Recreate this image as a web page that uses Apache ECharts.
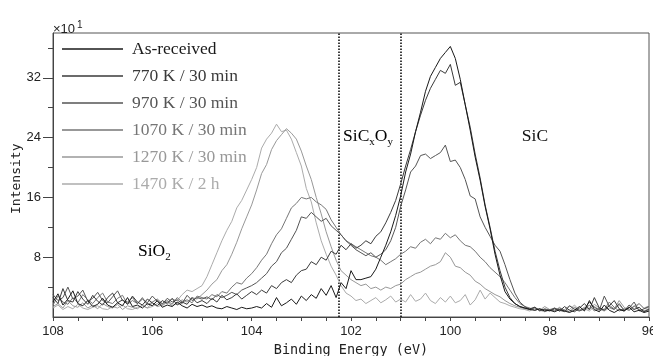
<!DOCTYPE html>
<html>
<head>
<meta charset="utf-8">
<script src="https://cdn.jsdelivr.net/npm/echarts@6/dist/echarts.min.js"></script>
<style>
  html, body { margin: 0; padding: 0; background: #fff; }
  #grafico { width: 653px; height: 356px; }
</style>
</head>
<body>
<div id="grafico"></div>
<script>
// ---------------- dados (eV de 108 ate 96, passo 0.1) ----------------
const nomes = ['As-received', '770 K / 30 min', '970 K / 30 min', '1070 K / 30 min', '1270 K / 30 min', '1470 K / 2 h'];
const cores = ['#1a1a1a', '#3a3a3a', '#555555', '#767676', '#989898', '#ababab'];

const asReceived = [
  2.0, 3.1, 1.6, 2.4, 3.5, 1.8, 1.5, 2.2, 1.4, 1.7, 2.5, 1.6, 1.3, 1.9, 1.5, 2.6, 1.4, 1.6, 1.2, 1.8, 1.5, 2.2, 1.3, 1.6, 1.4, 2.0, 1.5, 1.2, 1.7, 1.4, 1.6,
  1.3, 1.5, 1.2, 1.1, 1.4, 1.2, 1.0, 1.3, 1.1, 1.2,
  1.4, 1.2, 1.8, 1.3, 2.6, 1.5, 1.9, 2.4, 1.7, 2.8,
  2.2, 3.0, 2.5, 3.8, 2.9, 4.2, 2.6, 4.6, 3.8, 6.2,
  5.0, 5.0, 5.2, 5.4, 6.4, 8.0, 9.6, 11.4, 13.6, 16.2,
  19.4, 21.8, 24.8, 27.4, 30.2, 32.2, 33.4, 34.6, 35.4, 36.2,
  34.6, 31.8, 28.4, 25.0, 21.4, 18.3, 14.8, 11.8, 8.4, 5.6,
  3.4, 2.4, 1.8, 1.4, 1.2, 1.0, 0.9, 1.1, 0.8, 0.9,
  0.7, 1.0, 0.8, 0.6, 0.9, 1.4, 0.8, 2.2, 1.0, 0.7, 1.6, 0.9, 0.6, 1.0, 0.8, 1.3, 0.7, 0.9, 0.6, 0.8
];
const k770 = [
  2.6, 1.8, 3.8, 2.2, 2.0, 3.4, 2.4, 1.7, 2.9, 2.1, 1.6, 2.6, 3.2, 1.9, 2.3, 1.7, 2.8, 2.0, 1.6, 2.4, 1.9, 1.5, 2.2, 1.8, 2.5, 1.6, 2.0, 1.7, 2.6, 1.9, 2.2,
  1.8, 2.5, 2.0, 2.9, 2.3, 2.6, 3.1, 2.4, 2.9, 3.4,
  3.0, 3.6, 3.2, 4.2, 3.8, 4.6, 5.0, 4.6, 5.6, 6.2,
  6.4, 7.4, 7.0, 8.0, 7.6, 8.8, 8.4, 9.6, 9.0, 9.8,
  9.2, 9.6, 10.2, 9.8, 10.8, 11.4, 12.6, 14.0, 15.6, 17.8,
  20.2, 22.4, 24.8, 27.0, 29.0, 30.6, 31.8, 33.0, 32.6, 33.8,
  31.0, 31.4, 28.4, 25.4, 21.8, 18.6, 15.0, 12.0, 8.8, 6.2,
  4.0, 2.6, 1.8, 1.4, 1.2, 1.1, 1.3, 0.9, 1.0, 0.8,
  1.1, 0.8, 1.4, 0.9, 0.7, 1.2, 1.8, 1.0, 2.6, 1.2, 0.9, 1.5, 2.2, 1.1, 0.8, 1.6, 1.0, 1.3, 0.7, 1.0
];
const k970 = [
  3.0, 2.2, 2.6, 4.0, 2.4, 2.8, 3.6, 2.1, 2.5, 3.3, 2.2, 1.9, 2.7, 3.5, 2.2, 2.0, 2.6, 1.8, 2.4, 1.9, 2.8, 2.1, 1.7, 2.5, 2.0, 2.3, 1.8, 2.9, 2.2, 2.6, 2.4,
  2.7, 2.3, 3.0, 2.6, 2.9, 3.3, 3.0, 3.6, 3.9, 4.2,
  4.6, 5.2, 5.8, 6.8, 7.4, 8.6, 9.2, 10.4, 11.6, 13.4,
  13.2, 14.0, 13.4, 12.8, 13.2, 12.2, 11.6, 11.0, 10.2, 9.6,
  9.0, 8.6, 8.2, 8.6, 8.0, 8.4, 9.0, 10.2, 12.0, 14.8,
  17.0, 19.4, 20.2, 21.6, 21.8, 21.2, 21.6, 22.0, 23.0, 20.8,
  21.0, 20.0, 18.4, 16.2, 15.8, 13.4, 12.0, 10.8, 9.6, 8.8,
  7.0, 5.0, 3.2, 2.0, 1.4, 1.0, 1.3, 0.8, 1.1, 0.9,
  1.2, 0.9, 0.7, 1.5, 1.0, 0.8, 1.1, 2.0, 1.3, 0.9, 2.8, 1.4, 1.0, 1.8, 0.9, 1.2, 2.0, 0.8, 1.1, 1.4
];
const k1070 = [
  1.6, 2.8, 2.0, 1.7, 2.6, 1.9, 3.0, 2.3, 1.8, 2.6, 3.2, 2.0, 1.8, 2.5, 2.9, 1.7, 2.2, 1.8, 2.6, 1.6, 2.0, 2.4, 1.8, 2.2, 1.7, 2.6, 2.0, 2.3, 1.9, 2.8, 2.6,
  2.4, 3.0, 2.7, 3.4, 3.2, 4.0, 4.6, 4.4, 5.2, 5.8,
  6.6, 7.6, 8.4, 9.8, 11.0, 11.8, 13.2, 14.6, 15.2, 16.0,
  15.8, 16.0, 15.4, 15.0, 14.4, 13.0, 12.0, 11.0, 10.2, 9.8,
  9.4, 9.0, 8.6, 8.2, 8.0, 7.6, 7.0, 7.4, 7.8, 8.4,
  8.8, 9.4, 9.2, 10.0, 10.4, 9.8, 10.6, 10.4, 11.2, 10.6,
  11.0, 10.2, 9.6, 9.4, 8.8, 8.0, 7.4, 6.6, 6.0, 5.4,
  4.6, 3.6, 2.6, 1.8, 1.4, 1.2, 0.9, 1.1, 0.8, 1.0,
  0.8, 1.2, 0.9, 0.7, 1.3, 0.9, 1.0, 1.6, 0.8, 1.2, 1.0, 2.0, 1.3, 0.8, 1.1, 0.9, 1.5, 1.0, 0.8, 1.1
];
const k1270 = [
  1.4, 1.8, 1.2, 2.2, 1.5, 1.3, 1.9, 1.2, 1.6, 1.1, 1.8, 1.4, 1.2, 1.7, 1.0, 1.5, 1.3, 1.1, 1.6, 1.2, 1.9, 1.4, 1.6, 2.0, 1.5, 1.8, 2.3, 2.0, 2.6, 2.4, 3.0,
  3.6, 4.4, 5.0, 6.2, 7.0, 8.4, 10.0, 11.8, 13.4, 15.0,
  17.0, 19.2, 20.4, 22.4, 23.6, 24.4, 25.2, 24.6, 23.8, 22.2,
  20.2, 18.4, 16.0, 13.8, 11.4, 9.4, 7.6, 6.2, 5.6, 5.0,
  4.6, 4.2, 4.4, 3.8, 4.0, 3.6, 4.0, 3.8, 4.2, 4.4,
  5.0, 5.4, 5.8, 6.0, 6.4, 6.8, 7.0, 7.4, 8.6, 8.0,
  6.8, 6.6, 6.0, 5.6, 4.8, 4.4, 3.8, 3.4, 3.0, 2.7,
  2.2, 1.8, 1.5, 1.3, 1.1, 1.0, 1.2, 0.9, 1.4, 1.0,
  1.2, 0.8, 1.0, 1.5, 1.1, 0.9, 1.3, 1.0, 1.7, 1.2, 0.9, 1.6, 1.1, 2.2, 1.3, 0.9, 1.4, 1.8, 1.1, 1.3
];
const k1470 = [
  1.2, 1.6, 1.0, 1.4, 1.1, 1.7, 1.2, 1.0, 1.3, 1.5, 1.1, 1.0, 1.4, 1.2, 1.6, 1.1, 1.0, 1.3, 1.5, 1.2, 1.4, 1.8, 1.5, 2.0, 2.4, 2.2, 3.0, 3.6, 3.4, 3.8, 4.2,
  5.4, 7.0, 8.6, 10.2, 11.6, 12.8, 14.6, 15.6, 17.0, 18.4,
  20.0, 22.6, 23.8, 24.6, 25.8, 24.8, 25.0, 23.8, 22.0, 20.2,
  17.2, 15.4, 12.6, 10.2, 8.4, 6.8, 5.6, 4.2, 3.2, 2.8,
  2.2, 2.4, 1.8, 2.2, 2.6, 1.9, 2.3, 2.8, 2.0, 2.4,
  2.0, 3.0, 2.1, 2.4, 3.2, 2.2, 1.8, 2.6, 2.0, 2.8,
  1.9, 2.2, 3.0, 1.6, 2.3, 3.6, 2.4, 3.2, 2.6, 2.0,
  1.8, 1.5, 1.3, 1.1, 1.0, 0.8, 1.2, 0.9, 0.7, 1.0,
  0.9, 1.3, 0.8, 1.0, 1.6, 0.9, 1.1, 0.8, 1.4, 1.0, 0.8, 1.2, 1.0, 1.6, 0.9, 1.3, 1.0, 1.8, 1.2, 1.5
];
const espectros = [asReceived, k770, k970, k1070, k1270, k1470];

const xRotulos = [108, 106, 104, 102, 100, 98, 96];
const xTicks = [108, 107.5, 107, 106.5, 106, 105.5, 105, 104.5, 104, 103.5, 103, 102.5, 102, 101.5, 101, 100.5, 100, 99.5, 99, 98.5, 98, 97.5, 97, 96.5, 96];
const yRotulos = [8, 16, 24, 32];
const yTicksMenores = [4, 12, 20, 28, 36];
const limites = [102.25, 101.0];

// ---------------- grafico ----------------
const energia = [];
for (let i = 0; i <= 120; i++) energia.push(Math.round((108 - i * 0.1) * 10) / 10);

const chart = echarts.init(document.getElementById('grafico'));

const series = espectros.map((valores, idx) => ({
    name: nomes[idx],
    type: 'line',
    showSymbol: false,
    symbol: 'none',
    silent: true,
    z: 10 - idx,
    lineStyle: { color: cores[idx], width: 1 },
    itemStyle: { color: cores[idx] },
    data: valores.map((v, i) => [energia[i], v])
}));

series.push({
    name: 'limites',
    type: 'line',
    data: [],
    markLine: {
        silent: true,
        symbol: ['none', 'none'],
        label: { show: false },
        lineStyle: { color: '#000', type: 'dotted', width: 1.5 },
        data: limites.map(v => ({ xAxis: v }))
    }
});

const option = {
    animation: false,
    backgroundColor: '#fff',
    grid: {
        left: 53, right: 4, top: 33, bottom: 39,
        containLabel: false,
        outerBoundsMode: 'none',
        show: true, borderColor: '#555', borderWidth: 1
    },
    legend: {
        orient: 'vertical',
        left: 62,
        top: 40,
        padding: 0,
        icon: 'rect',
        itemWidth: 61,
        itemHeight: 1.6,
        itemGap: 9,
        selectedMode: false,
        data: nomes.map((n, i) => ({ name: n, textStyle: { color: cores[i] } })),
        textStyle: { fontFamily: 'Liberation Serif', fontSize: 17.5, lineHeight: 18, padding: [0, 0, 0, 4] }
    },
    xAxis: {
        type: 'value',
        inverse: true,
        min: 96,
        max: 108,
        splitLine: { show: false },
        axisLine: { lineStyle: { color: '#444', width: 1 } },
        axisTick: { show: true, length: 4, customValues: xTicks, lineStyle: { color: '#444' } },
        axisLabel: { customValues: xRotulos, margin: 8, color: '#222', fontFamily: 'Liberation Sans', fontSize: 13 },
        name: 'Binding Energy (eV)',
        nameLocation: 'middle',
        nameGap: 26,
        nameTextStyle: { fontFamily: 'DejaVu Sans Mono', fontSize: 13.5, color: '#222' }
    },
    yAxis: [{
        type: 'value',
        min: 0,
        max: 38,
        splitLine: { show: false },
        axisLine: { show: true, lineStyle: { color: '#444', width: 1 } },
        axisTick: { show: true, length: 10, customValues: yRotulos, lineStyle: { color: '#444' } },
        axisLabel: { customValues: yRotulos, margin: 12, verticalAlign: 'middle', padding: [0, 0, 5, 0], color: '#222', fontFamily: 'Liberation Sans', fontSize: 13 }
    }, {
        type: 'value',
        position: 'left',
        min: 0,
        max: 38,
        splitLine: { show: false },
        axisLine: { show: false },
        axisTick: { show: true, length: 5, customValues: yTicksMenores, lineStyle: { color: '#444' } },
        axisLabel: { show: false }
    }],
    series: series
};

chart.setOption(option);

// anotacoes em coordenadas de dados
function pos(x, y) { return chart.convertToPixel({ gridIndex: 0 }, [x, y]); }
const fonteAnot = { fontFamily: 'Liberation Serif', fontSize: 17.5, color: '#111' };
const sub = { fontFamily: 'Liberation Serif', fontSize: 11, color: '#111', verticalAlign: 'bottom', lineHeight: 22 };
const pSiO2 = pos(106.29, 8.8);
const pSiCxOy = pos(102.16, 24.1);
const pSiC = pos(98.56, 24.1);
const pEscala = pos(108, 38);
const pTituloY = pos(108, 18.5);

chart.setOption({
    graphic: [
        { type: 'text', x: pSiO2[0], y: pSiO2[1], style: { text: '{a|SiO}{s|2}', verticalAlign: 'middle', rich: { a: Object.assign({ lineHeight: 22, verticalAlign: 'middle' }, fonteAnot), s: sub } } },
        { type: 'text', x: pSiCxOy[0], y: pSiCxOy[1], style: { text: '{a|SiC}{s|x}{a|O}{s|y}', verticalAlign: 'middle', rich: { a: Object.assign({ lineHeight: 22, verticalAlign: 'middle' }, fonteAnot), s: sub } } },
        { type: 'text', x: pSiC[0], y: pSiC[1], style: { text: 'SiC', verticalAlign: 'middle', font: '17.5px "Liberation Serif"', fill: '#111' } },
        { type: 'text', x: pEscala[0], y: pEscala[1] + 3, style: { text: '×10', verticalAlign: 'bottom', font: '13px "Liberation Sans"', fill: '#222' } },
        { type: 'text', x: pEscala[0] + 24, y: pEscala[1] - 3, style: { text: '1', verticalAlign: 'bottom', font: '10px "Liberation Sans"', fill: '#222' } },
        { type: 'text', x: pTituloY[0] - 36, y: pTituloY[1], rotation: Math.PI / 2, style: { text: 'Intensity', align: 'center', verticalAlign: 'middle', font: '13px "DejaVu Sans Mono"', fill: '#222' } }
    ]
});
</script>
</body>
</html>
